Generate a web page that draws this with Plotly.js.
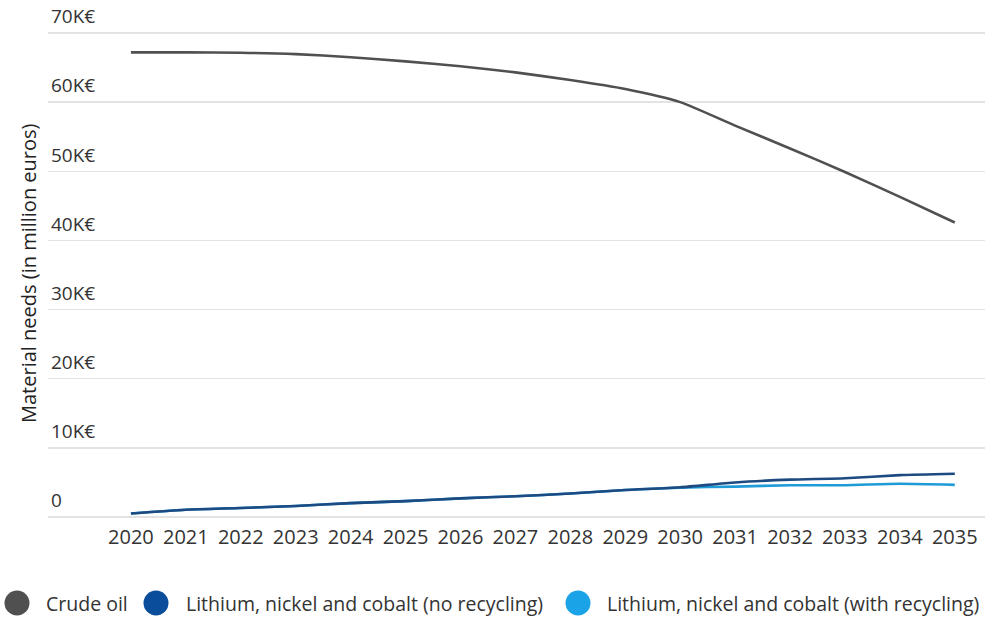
<!DOCTYPE html>
<html>
<head>
<meta charset="utf-8">
<script src="https://cdn.plot.ly/plotly-3.0.1.min.js"></script>
<style>
  html, body { margin: 0; padding: 0; background: #fff; }
  #chart { width: 986px; height: 617px; }
</style>
</head>
<body>
<div id="chart"></div>
<script>
// Years on the x axis
const years = [2020, 2021, 2022, 2023, 2024, 2025, 2026, 2027, 2028, 2029, 2030, 2031, 2032, 2033, 2034, 2035];

// Material needs, million euros
const crudeOil = [67200, 67200, 67150, 66950, 66500, 65900, 65200, 64300, 63200, 61900, 60000, 56600, 53300, 49900, 46300, 42600];
const lncNoRecycling = [500, 1050, 1300, 1600, 2000, 2300, 2700, 3000, 3400, 3900, 4300, 5000, 5400, 5600, 6050, 6250];
const lncWithRecycling = [500, 1050, 1300, 1600, 2000, 2300, 2700, 3000, 3400, 3900, 4250, 4400, 4600, 4600, 4800, 4650];

// Axis ticks
const yTickVals = [0, 10000, 20000, 30000, 40000, 50000, 60000, 70000];
const yTickText = ['0', '10K€', '20K€', '30K€', '40K€', '50K€', '60K€', '70K€'];

const seriesNames = ['Crude oil', 'Lithium, nickel and cobalt (no recycling)', 'Lithium, nickel and cobalt (with recycling)'];
const lineColors = ['#505050', '#1d4a80', '#1f9bd8'];
const swatchColors = ['#505050', '#0a4d9b', '#1aa3e6'];

const seriesValues = [crudeOil, lncNoRecycling, lncWithRecycling];

// Page geometry (pixels)
const W = 986, H = 617;
const M = { l: 48, r: 1, t: 0, b: 100 };
const plotW = W - M.l - M.r, plotH = H - M.t - M.b;
const px2paperX = px => (px - M.l) / plotW;
const py2paperY = py => (H - M.b - py) / plotH;

const traces = [];
// Draw the lighter (with recycling) series first so the darker ones sit on top
[2, 1, 0].forEach(i => {
  traces.push({
    x: years,
    y: seriesValues[i],
    type: 'scatter',
    mode: 'lines',
    name: seriesNames[i],
    line: { color: lineColors[i], width: 2.6, shape: 'spline', smoothing: 0.6 },
    hoverinfo: 'x+y+name'
  });
});

// Key below the plot: round swatch followed by the series name
const keySwatchX = [17, 156, 578];
const keyTextX = [44, 184, 605];
const keyY = 603;
const shapes = [];
const annotations = [];
seriesNames.forEach((name, i) => {
  shapes.push({
    type: 'circle',
    xref: 'paper', yref: 'paper',
    xsizemode: 'pixel', ysizemode: 'pixel',
    xanchor: px2paperX(keySwatchX[i]), yanchor: py2paperY(keyY),
    x0: -12.5, x1: 12.5, y0: -12.5, y1: 12.5,
    fillcolor: swatchColors[i],
    line: { width: 0 },
    layer: 'above'
  });
  annotations.push({
    xref: 'paper', yref: 'paper',
    x: px2paperX(keyTextX[i]), y: py2paperY(keyY),
    xanchor: 'left', yanchor: 'middle',
    text: name,
    showarrow: false,
    font: { size: 19.5, color: '#333333' }
  });
});

// Vertical axis title
annotations.push({
  xref: 'paper', yref: 'paper',
  x: px2paperX(28), y: py2paperY(273),
  xanchor: 'center', yanchor: 'middle',
  textangle: -90,
  text: 'Material needs (in million euros)',
  showarrow: false,
  font: { size: 20, color: '#222222' }
});

const layout = {
  width: W,
  height: H,
  margin: { l: M.l, r: M.r, t: M.t, b: M.b, autoexpand: false },
  paper_bgcolor: '#ffffff',
  plot_bgcolor: '#ffffff',
  font: { family: '"Open Sans", sans-serif', color: '#333333', size: 20 },
  showlegend: false,
  xaxis: {
    range: [2018.49, 2035.55],
    tickmode: 'array',
    tickvals: years,
    ticktext: years.map(String),
    showgrid: false,
    zeroline: false,
    showline: false,
    ticks: '',
    ticklabelstandoff: 6,
    tickfont: { size: 20, color: '#333333' },
    fixedrange: true
  },
  yaxis: {
    range: [0, 74773],
    tickmode: 'array',
    tickvals: yTickVals,
    ticktext: yTickText,
    ticklabelposition: 'inside top',
    ticklabelshift: -3,
    showgrid: true,
    gridcolor: '#e3e3e3',
    gridwidth: 1.5,
    zeroline: true,
    zerolinecolor: '#e3e3e3',
    zerolinewidth: 1.5,
    showline: false,
    tickfont: { size: 19, color: '#333333' },
    automargin: false,
    fixedrange: true
  },
  shapes: shapes,
  annotations: annotations
};

Plotly.newPlot('chart', traces, layout, { displayModeBar: false, staticPlot: true });
</script>
</body>
</html>
